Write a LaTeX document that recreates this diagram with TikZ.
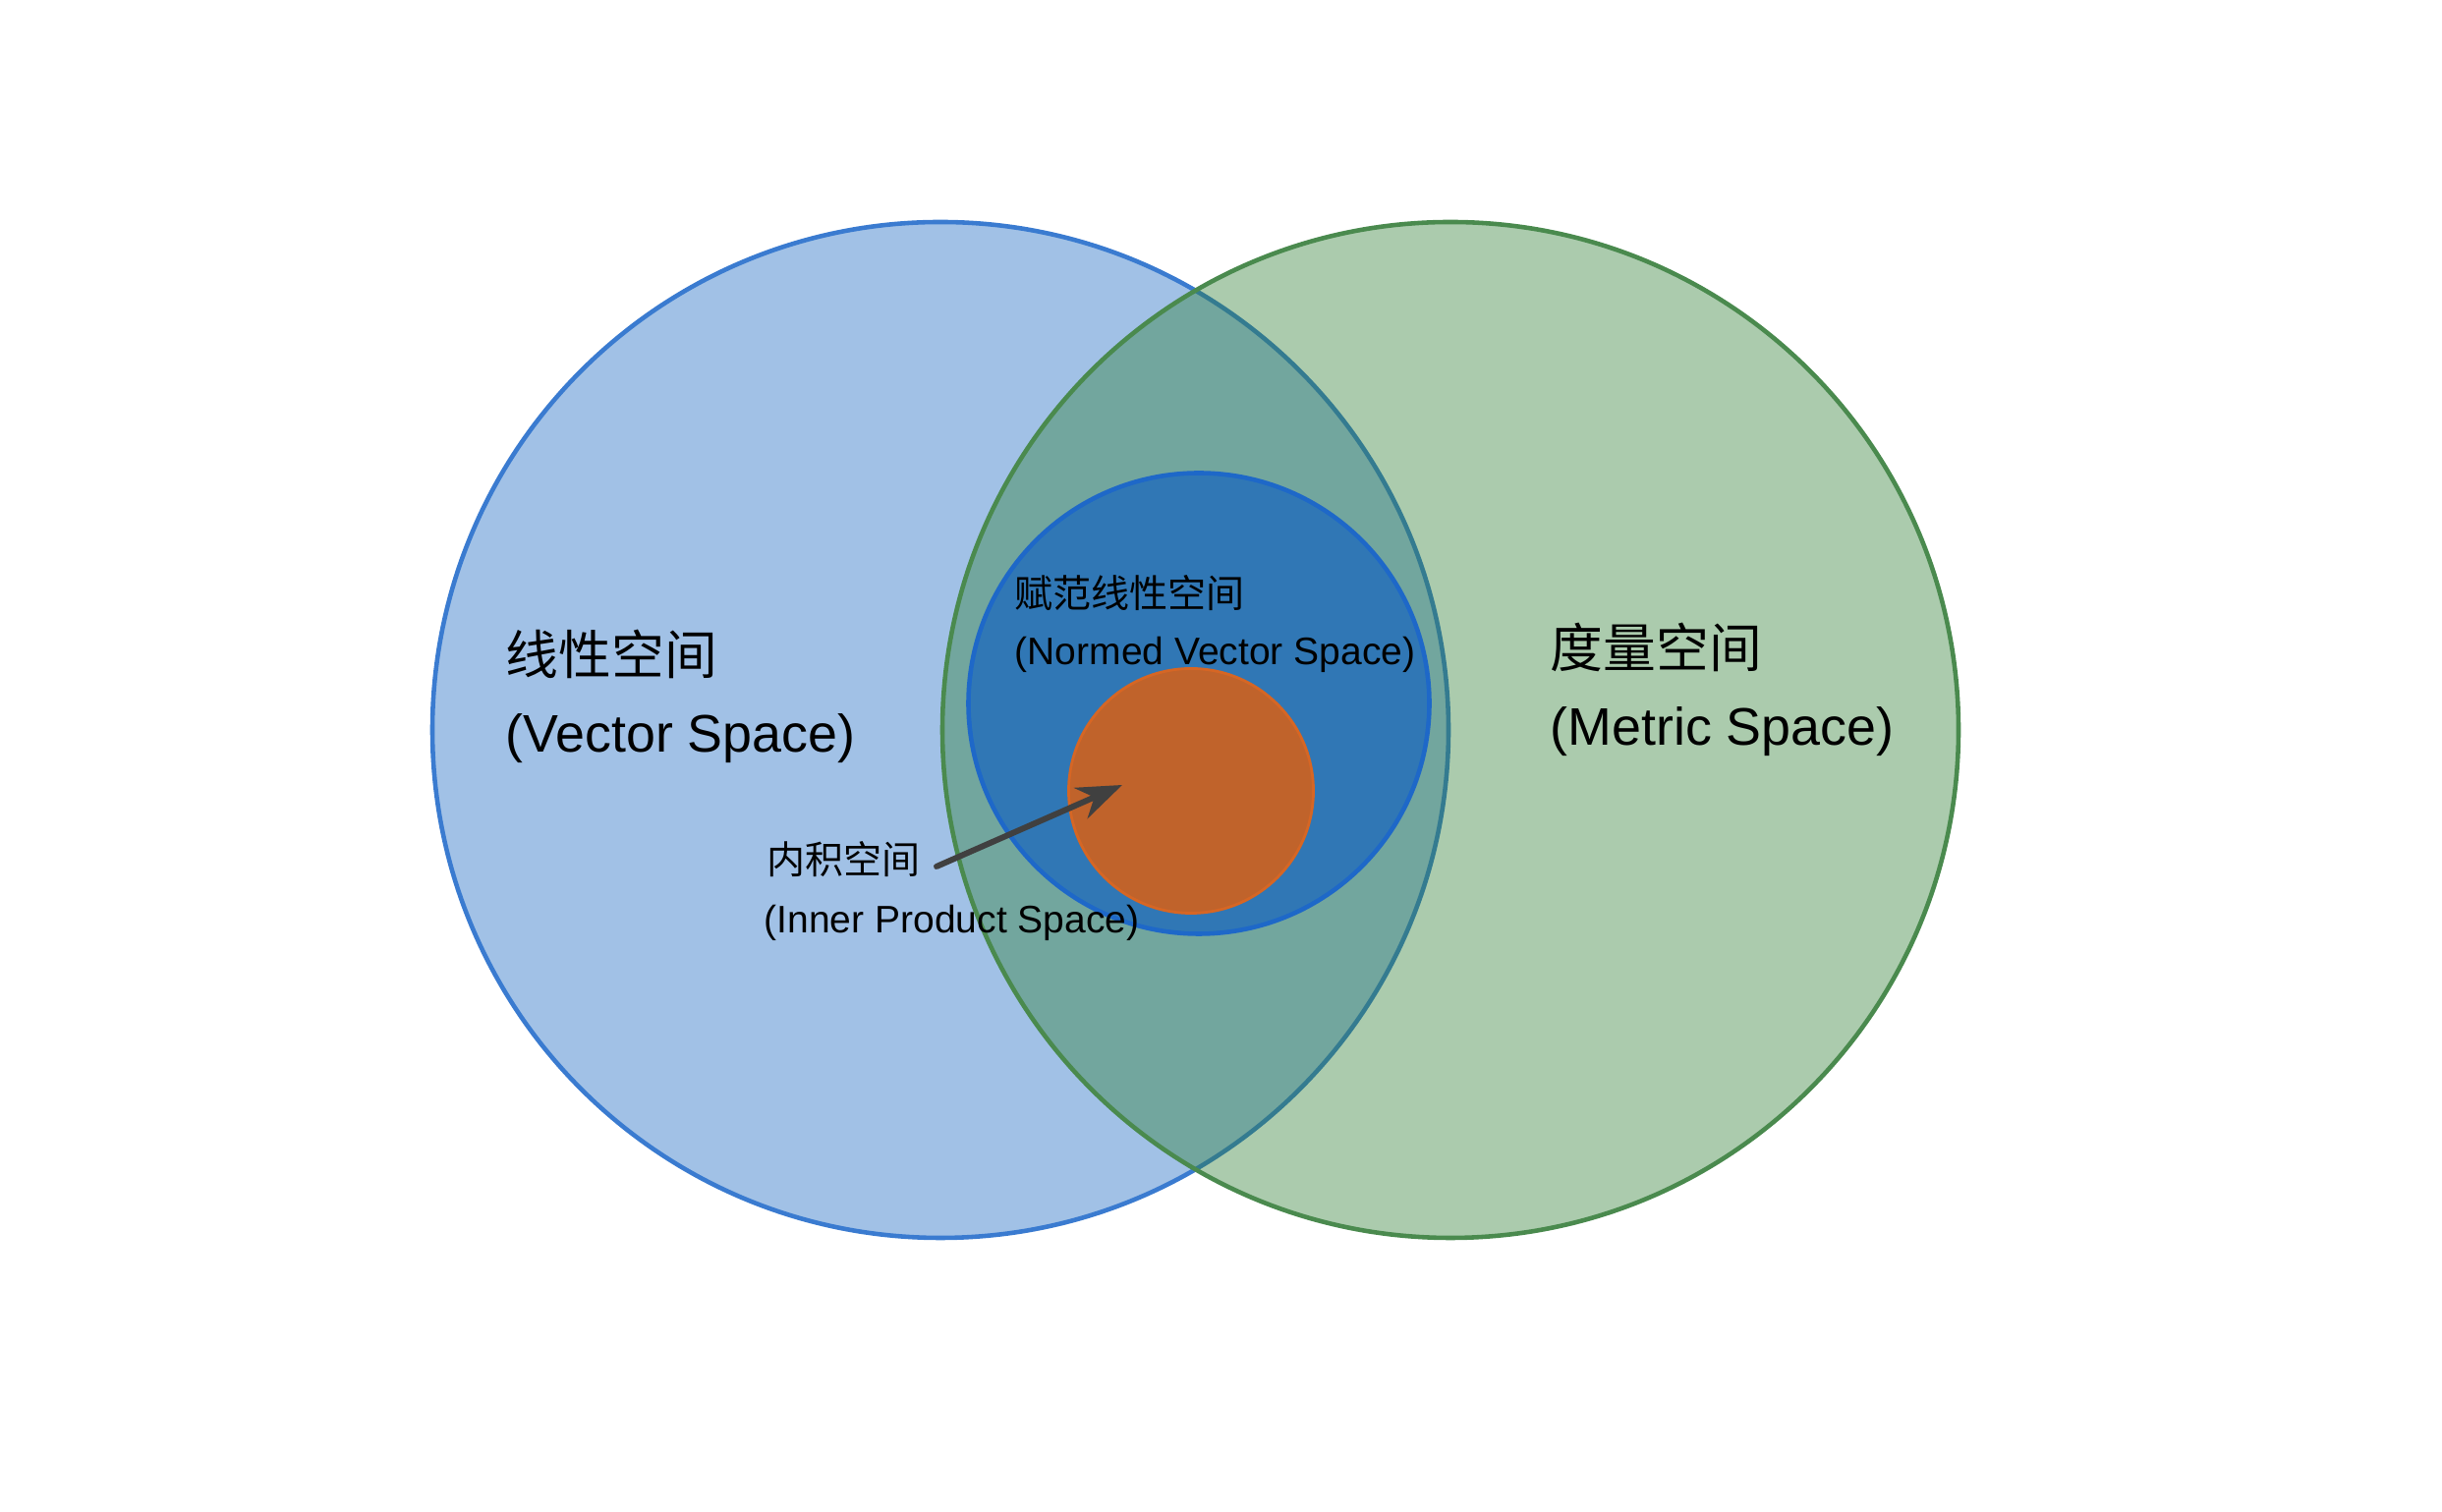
\documentclass[tikz,border=0pt]{standalone}
\usepackage{fontspec}
\setmainfont{Liberation Sans}
\newfontfamily\cjk{Noto Sans CJK SC}
\usepackage{xcolor}
\usepackage{tikz}
\usetikzlibrary{arrows.meta}

\definecolor{vecblue}{RGB}{20,100,192}
\definecolor{vecline}{RGB}{58,123,208}
\definecolor{metgreen}{RGB}{45,125,50}
\definecolor{metline}{RGB}{74,138,78}
\definecolor{normline}{RGB}{30,104,200}
\definecolor{innerfill}{RGB}{192,99,43}
\definecolor{innerline}{RGB}{214,102,36}
\definecolor{arrowgray}{RGB}{64,64,64}

\begin{document}
\begin{tikzpicture}[
    space/.style={circle, inner sep=0pt, line width=1.3pt},
    biglabel/.style={anchor=west, inner sep=0pt, font=\fontsize{15.3}{18}\selectfont},
    smalllabel/.style={anchor=west, inner sep=0pt, font=\fontsize{11.1}{13}\selectfont},
    pointer/.style={-{Stealth[length=4.6mm, width=3.4mm]}, line width=1.7pt, line cap=round, arrowgray},
]
\useasboundingbox (0,0) rectangle (24.85,15.39);

% === OUTER SPACES ===
\node[space, minimum size=10.34cm, draw=vecline, fill=vecblue, fill opacity=0.4, draw opacity=1] (vector) at (9.57,7.96) {};
\node[space, minimum size=10.34cm, draw=metline, fill=metgreen, fill opacity=0.4, draw opacity=1] (metric) at (14.76,7.96) {};

% === NESTED SPACES ===
\node[space, minimum size=4.69cm, draw=normline, fill=vecblue, fill opacity=0.7, draw opacity=1] (normed) at (12.20,8.23) {};
\node[space, minimum size=2.49cm, line width=0.8pt, draw=innerline, fill=innerfill] (inner) at (12.12,7.34) {};

% === LABELS ===
\node[biglabel] (vectorcn) at (5.14,8.73) {\cjk 线性空间};
\node[biglabel] (vectoren) at (5.14,7.87) {(Vector Space)};
\node[biglabel] (metriccn) at (15.77,8.80) {\cjk 度量空间};
\node[biglabel] (metricen) at (15.77,7.94) {(Metric Space)};
\node[smalllabel] (normedcn) at (10.32,9.35) {\cjk 赋范线性空间};
\node[smalllabel] (normeden) at (10.32,8.73) {(Normed Vector Space)};
\node[smalllabel] (innercn) at (7.80,6.64) {\cjk 内积空间};
\node[smalllabel] (inneren) at (7.77,6.00) {(Inner Product Space)};

% === POINTER ===
\coordinate (pointstart) at (9.53,6.57);
\coordinate (pointend) at (11.42,7.40);
\draw[pointer] (pointstart) -- (pointend);

\end{tikzpicture}
\end{document}
